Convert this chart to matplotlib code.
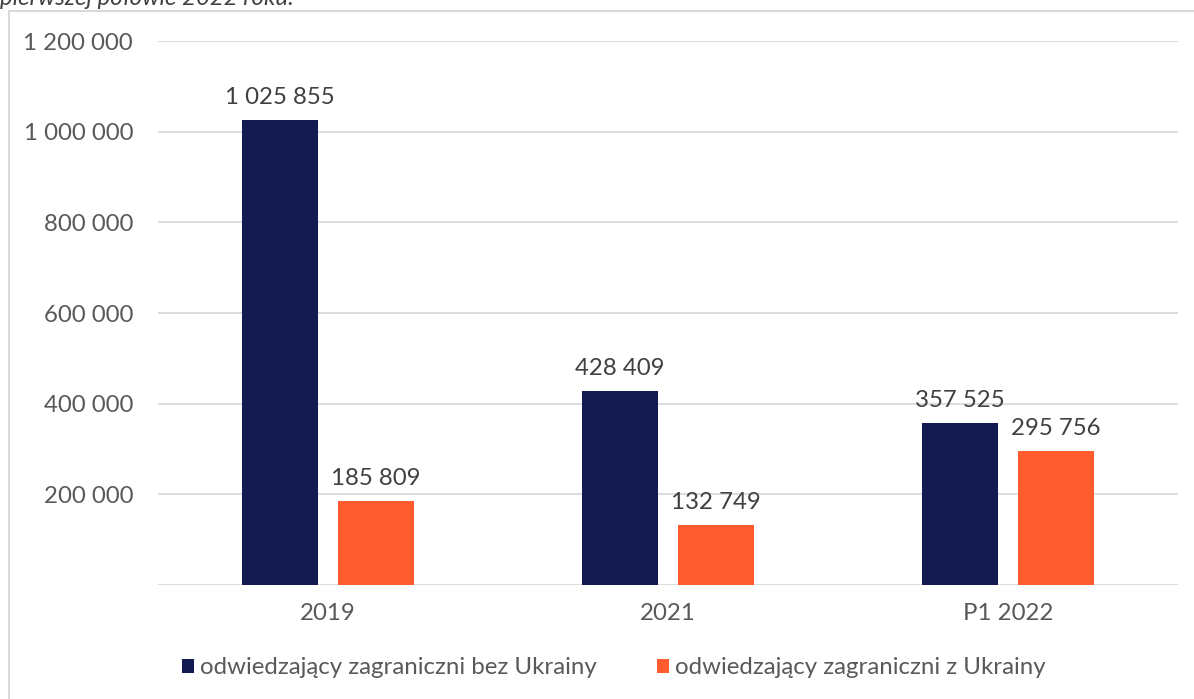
import numpy as np
import matplotlib.pyplot as plt
from matplotlib.patches import Rectangle

plt.rcParams['font.family'] = ['Lato', 'DejaVu Sans']

kategorie = ['2019', '2021', 'P1 2022']
bez_ukrainy = [1025855, 428409, 357525]
z_ukraina = [185809, 132749, 295756]
serie = ['odwiedzający zagraniczni bez Ukrainy', 'odwiedzający zagraniczni z Ukrainy']
yticks = [200000, 400000, 600000, 800000, 1000000, 1200000]

granat = '#131a4f'
pomarancz = '#ff5b2e'

def fmt(v):
    return f'{v:,}'.replace(',', ' ')

fig = plt.figure(figsize=(11.94, 6.99), dpi=100)
ax = fig.add_axes([158/1194, 114/699, 1020/1194, 544/699])

x = np.arange(len(kategorie))
w = 0.222
off = 0.141
b1 = ax.bar(x - off, bez_ukrainy, w, color=granat, label=serie[0], zorder=3)
b2 = ax.bar(x + off, z_ukraina, w, color=pomarancz, label=serie[1], zorder=3)

for bars, vals in ((b1, bez_ukrainy), (b2, z_ukraina)):
    for b, v in zip(bars, vals):
        ax.text(b.get_x() + b.get_width()/2, v + 26000, fmt(v), ha='center', va='bottom',
                fontsize=17.3, color='#404040')

ax.set_xlim(-0.5, 2.5)
ax.set_ylim(0, 1200000)
ax.set_yticks(yticks)
ax.set_yticklabels([fmt(t) for t in yticks])
ax.set_xticks(x)
ax.set_xticklabels(kategorie)
ax.tick_params(axis='both', length=0, labelsize=17.3, colors='#595959')
ax.tick_params(axis='y', pad=18)
ax.tick_params(axis='x', pad=13)
ax.grid(axis='y', color='#d9d9d9', lw=1.3, zorder=0)
ax.axhline(0, color='#d9d9d9', lw=1.3, zorder=1)
for s in ax.spines.values():
    s.set_visible(False)

leg = fig.legend(loc='center', bbox_to_anchor=(0.514, 1 - 668/699), ncol=2, frameon=False,
                 fontsize=17.3, labelcolor='#595959', handlelength=0.5, handleheight=0.5,
                 handletextpad=0.25, columnspacing=2.5)

# obramowanie wykresu
fig.patches.append(Rectangle((9/1194, -0.01), 1.1, 1 - 11/699 + 0.01, transform=fig.transFigure,
                             fill=False, edgecolor='#d9d9d9', lw=1.5))

fig.text(0, 1 - 5/699, 'pierwszej połowie 2022 roku.', fontsize=17.3, style='italic',
         color='#404040', ha='left', va='baseline')

fig.savefig('out.png', dpi=100)
